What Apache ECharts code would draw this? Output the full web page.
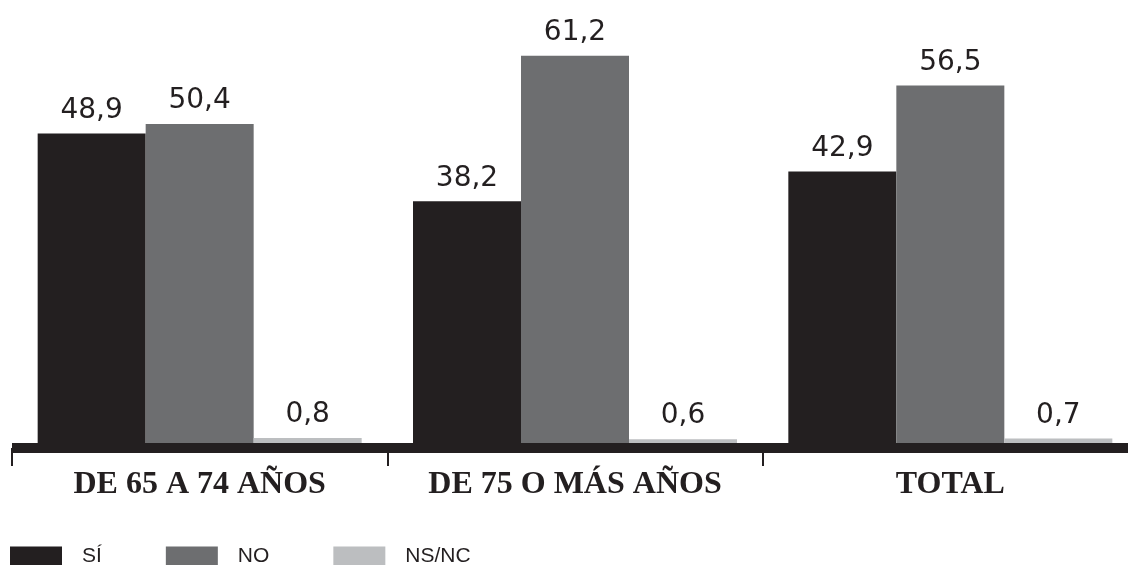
<!DOCTYPE html>
<html><head><meta charset="utf-8">
<script src="https://cdn.jsdelivr.net/npm/echarts@6/dist/echarts.min.js"></script>
<style>html,body{margin:0;padding:0;background:#fff}#c{width:1128px;height:565px}</style>
</head><body><div id="c"></div>
<script>
const categories = ['DE 65 A 74 AÑOS', 'DE 75 O MÁS AÑOS', 'TOTAL'];
const seriesNames = ['SÍ', 'NO', 'NS/NC'];
const siValues = [48.9, 38.2, 42.9];
const noValues = [50.4, 61.2, 56.5];
const nsncValues = [0.8, 0.6, 0.7];
const colors = ['#231f20', '#6d6e70', '#bcbec0'];

const chart = echarts.init(document.getElementById('c'), null, {renderer: 'canvas'});
const mk = (name, data, color) => ({
  name, type: 'bar', data, barWidth: 108, barGap: '0%',
  itemStyle: {color},
  label: {
    show: true, position: 'top', distance: 9,
    color: '#231f20', fontFamily: 'DejaVu Sans', fontSize: 28,
    formatter: p => p.value.toFixed(1).replace('.', ',')
  }
});
chart.setOption({
  animation: false,
  grid: {left: 12, width: 1126, top: 0, bottom: 122, containLabel: false, outerBoundsMode: 'none'},
  legend: {
    left: 10, top: 546, padding: 0, itemWidth: 52, itemHeight: 20, itemGap: 64, icon: 'rect',
    data: seriesNames,
    textStyle: {fontFamily: 'Liberation Sans Narrow, Liberation Sans', fontSize: 21, color: '#231f20', padding: [0, 0, 0, 15]}
  },
  xAxis: {
    type: 'category', data: categories, offset: 5,
    axisLine: {onZero: false, lineStyle: {color: '#231f20', width: 10, cap: 'butt'}},
    axisTick: {show: true, length: 18, lineStyle: {color: '#231f20', width: 2}},
    axisLabel: {interval: 0, margin: 21, fontFamily: 'Liberation Serif', fontWeight: 'bold', fontSize: 32, color: '#231f20'}
  },
  yAxis: {type: 'value', min: 0, max: 70, show: false, splitLine: {show: false}},
  series: [mk(seriesNames[0], siValues, colors[0]), mk(seriesNames[1], noValues, colors[1]), mk(seriesNames[2], nsncValues, colors[2])]
});
</script></body></html>
